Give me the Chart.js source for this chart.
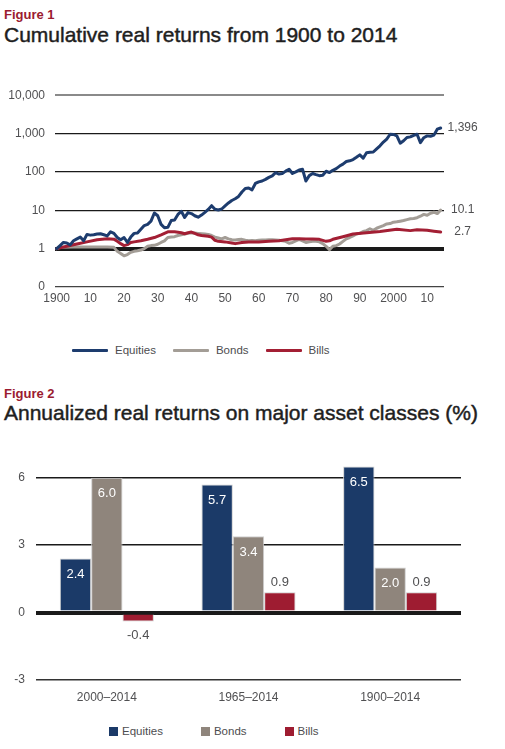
<!DOCTYPE html>
<html>
<head>
<meta charset="utf-8">
<script src="https://cdn.jsdelivr.net/npm/chart.js@4.4.1/dist/chart.umd.min.js"></script>
<style>
  body{margin:0;width:505px;height:749px;position:relative;background:#fff;overflow:hidden;
       font-family:"Liberation Sans",Arial,Helvetica,sans-serif}
  .fig{position:absolute;left:4px;font-size:13px;line-height:13px;font-weight:bold;color:#9b1b30}
  .ttl{position:absolute;left:4px;font-size:21px;line-height:21px;color:#1e1e1e;white-space:nowrap;
       -webkit-text-stroke:0.45px #1e1e1e}
  canvas{position:absolute;left:0}
  .lg{position:absolute;display:flex;align-items:center;height:14px;font-size:11.5px;color:#4d4d4f}
  .lg .it{display:flex;align-items:center}
  .lg1 .it{margin-right:17px}
  .lg1 .sw{width:36px;height:3px;margin-right:7px;border-radius:1px}
  .lg2 .it{margin-right:38px}
  .lg2 .sw{width:9px;height:9px;margin-right:4px}
</style>
</head>
<body>

<div class="fig" style="top:8px">Figure 1</div>
<div class="ttl" style="top:24px">Cumulative real returns from 1900 to 2014</div>
<canvas id="c1" width="505" height="231" style="top:78px"></canvas>
<div class="lg lg1" style="left:72px;top:343px">
  <span class="it"><span class="sw" style="background:#1d3c6e"></span>Equities</span>
  <span class="it"><span class="sw" style="background:#a39d96"></span>Bonds</span>
  <span class="it"><span class="sw" style="background:#a31f34"></span>Bills</span>
</div>

<div class="fig" style="top:387px">Figure 2</div>
<div class="ttl" style="top:402px">Annualized real returns on major asset classes (%)</div>
<canvas id="c2" width="505" height="273" style="top:437px"></canvas>
<div class="lg lg2" style="left:109px;top:724px">
  <span class="it"><span class="sw" style="background:#1b3a68"></span>Equities</span>
  <span class="it"><span class="sw" style="background:#8f857c"></span>Bonds</span>
  <span class="it"><span class="sw" style="background:#9e1c31"></span>Bills</span>
</div>

<script>
/* ── Figure 1 data: cumulative real value of 1 invested in 1900 ── */
const eqYears = [1900,1901,1902,1903,1904,1905,1906,1907,1908,1909,1910,1911,1912,1913,1914,1915,1916,1917,1918,1919,
  1920,1921,1922,1923,1924,1925,1926,1927,1928,1929,1930,1931,1932,1933,1934,1935,1936,1937,1938,1939,
  1940,1941,1942,1943,1944,1945,1946,1947,1948,1949,1950,1951,1952,1953,1954,1955,1956,1957,1958,1959,
  1960,1961,1962,1963,1964,1965,1966,1967,1968,1969,1970,1971,1972,1973,1974,1975,1976,1977,1978,1979,
  1980,1981,1982,1983,1984,1985,1986,1987,1988,1989,1990,1991,1992,1993,1994,1995,1996,1997,1998,1999,
  2000,2001,2002,2003,2004,2005,2006,2007,2008,2009,2010,2011,2012,2013,2014];
const eqValues = [1.0,1.2,1.45,1.4,1.25,1.6,1.8,2.0,1.6,2.35,2.25,2.3,2.4,2.45,2.3,2.15,2.75,2.5,1.95,1.7,
  1.95,1.45,2.0,2.5,2.55,3.2,4.0,4.3,5.2,8.5,7.2,4.3,3.5,3.6,5.4,5.6,7.8,9.4,6.5,8.7,
  8.2,7.2,6.6,7.5,8.8,10.5,13.2,10.6,10.2,10.8,13,15.5,18,20,23,30,37,38,34,50,
  55,58,64,72,79,96,88,91,105,117,91,100,112,117,58,80,91,85,80,82,
  104,96,110,122,142,160,187,195,210,240,278,228,315,325,330,400,480,600,720,960,
  950,870,560,650,790,820,900,960,580,780,870,850,910,1300,1396];

const bondYears = [1900,1901,1905,1910,1915,1917,1918,1919,1920,1921,1922,1923,1924,1925,1926,1927,1928,1929,
  1930,1931,1932,1933,1934,1935,1936,1937,1938,1939,1940,1941,1942,1943,1944,1945,1946,1947,1948,1949,
  1950,1951,1952,1953,1954,1955,1956,1957,1958,1959,1960,1961,1962,1963,1964,1965,1966,1967,1968,1969,
  1970,1971,1972,1973,1974,1975,1976,1977,1978,1979,1980,1981,1982,1983,1984,1985,1986,1987,1988,1989,
  1990,1991,1992,1993,1994,1995,1996,1997,1998,1999,2000,2001,2002,2003,2004,2005,2006,2007,2008,2009,
  2010,2011,2012,2013,2014];
const bondValues = [1.0,1.08,1.1,1.1,1.1,1.08,0.85,0.75,0.65,0.7,0.8,0.85,0.88,0.92,1.0,1.15,1.2,1.22,
  1.3,1.45,1.6,1.95,2.0,2.05,2.2,2.3,2.4,2.5,2.6,2.55,2.5,2.45,2.4,2.35,2.2,2.0,1.9,1.8,
  1.95,1.8,1.7,1.68,1.72,1.75,1.65,1.6,1.62,1.6,1.65,1.68,1.68,1.7,1.7,1.68,1.65,1.6,1.55,1.38,
  1.45,1.6,1.75,1.6,1.45,1.5,1.55,1.55,1.5,1.35,1.15,0.94,1.15,1.2,1.32,1.55,1.8,1.95,2.15,2.4,
  2.5,2.8,2.95,3.3,3.0,3.4,3.7,4.0,4.4,4.5,4.9,5.0,5.2,5.4,5.7,6.0,6.1,6.4,7.0,7.8,
  7.4,8.4,8.9,8.2,10.1];

const billYears = [1900,1903,1906,1909,1912,1915,1917,1918,1919,1920,1921,1922,1923,1925,1927,1929,1931,1933,
  1935,1937,1938,1939,1940,1941,1942,1943,1945,1946,1947,1948,1950,1952,1953,1955,1957,1960,1963,1966,
  1968,1970,1972,1974,1976,1978,1980,1981,1982,1985,1988,1992,1996,2001,2005,2007,2010,2012,2014];
const billValues = [1.0,1.15,1.32,1.5,1.7,1.8,1.77,1.55,1.35,1.2,1.27,1.45,1.5,1.6,1.75,1.95,2.3,2.75,
  2.75,2.6,2.45,2.6,2.7,2.5,2.3,2.2,2.1,2.0,1.65,1.55,1.5,1.4,1.35,1.45,1.5,1.5,1.55,1.6,
  1.7,1.8,1.82,1.78,1.78,1.75,1.55,1.6,1.75,2.05,2.4,2.6,2.8,3.2,2.95,3.1,3.0,2.85,2.72];

const endLabels = ['1,396','10.1','2.7'];
const xTicks1 = [1900,1910,1920,1930,1940,1950,1960,1970,1980,1990,2000,2010];
const yTicks1 = [0.1,1,10,100,1000,10000];

/* ── Figure 2 data: annualized real returns (%) ── */
const periods  = ['2000\u20132014','1965\u20132014','1900\u20132014'];
const equities = [2.4,5.7,6.5];
const bonds    = [6.0,3.4,2.0];
const bills    = [-0.4,0.9,0.9];
const yTicks2  = [-3,0,3,6];

const NAVY = '#1b3a68', TAUPE = '#8f857c', RED = '#9e1c31', TC = '#505052';
const FONT = '"Liberation Sans", Arial, Helvetica, sans-serif';
Chart.defaults.font.family = FONT;
Chart.defaults.color = TC;

const pts = (xs, ys) => xs.map((x, i) => ({ x, y: ys[i] }));

/* ── end-of-line value labels ── */
const endLabelPlugin = {
  id: 'endLabels',
  afterDatasetsDraw(chart) {
    const ctx = chart.ctx;
    ctx.save();
    ctx.font = '12px ' + FONT;
    ctx.fillStyle = TC;
    ctx.textAlign = 'center';
    ctx.textBaseline = 'middle';
    chart.data.datasets.forEach((ds, i) => {
      const pts = chart.getDatasetMeta(i).data;
      const last = pts[pts.length - 1];
      ctx.fillText(endLabels[i], last.x + 22, last.y);
    });
    ctx.restore();
  }
};

new Chart(document.getElementById('c1'), {
  type: 'line',
  data: { datasets: [
    { label:'Equities', data: pts(eqYears, eqValues),   borderColor:'#1d3c6e', borderWidth:3, order:0 },
    { label:'Bonds',    data: pts(bondYears, bondValues), borderColor:'#a39d96', borderWidth:3, order:2 },
    { label:'Bills',    data: pts(billYears, billValues), borderColor:'#a31f34', borderWidth:3, order:1 }
  ]},
  options: {
    responsive:false, animation:false, devicePixelRatio:1,
    layout:{ padding:{ left:0, right:61, top:14, bottom:0 } },
    elements:{ point:{ radius:0 }, line:{ tension:0, borderJoinStyle:'round', borderCapStyle:'round' } },
    plugins:{ legend:{ display:false }, tooltip:{ enabled:false } },
    scales:{
      x:{ type:'linear', min:1899.5, max:2015,
          grid:{ display:false, drawTicks:false }, border:{ display:false },
          afterBuildTicks: s => { s.ticks = xTicks1.map(v => ({ value:v })); },
          afterFit: s => { s.height = 22; },
          ticks:{ padding:4, font:{ size:12 }, maxRotation:0, autoSkip:false,
                  callback: v => (v % 100 === 0 ? String(v) : String(v % 100)) } },
      y:{ type:'logarithmic', min:0.1, max:10000,
          afterBuildTicks: s => { s.ticks = yTicks1.map(v => ({ value:v })); },
          afterFit: s => { s.width = 55; },
          border:{ display:false },
          grid:{ drawTicks:false,
                 color: c => c.tick && c.tick.value === 10000 ? '#8a8a8a' : (c.tick && c.tick.value === 0.1 ? '#444' : '#1a1a1a'),
                 lineWidth: c => c.tick && c.tick.value === 1 ? 4 : (c.tick && c.tick.value === 10000 ? 2 : 1.2) },
          ticks:{ padding:10, font:{ size:12 },
                  callback: v => (v < 1 ? '0' : Number(v).toLocaleString('en-US')) } }
    }
  },
  plugins:[endLabelPlugin]
});

/* ── bar value labels ── */
const barLabelPlugin = {
  id: 'barLabels',
  afterDatasetsDraw(chart) {
    const ctx = chart.ctx;
    ctx.save();
    ctx.font = '13px ' + FONT;
    ctx.textAlign = 'center';
    ctx.textBaseline = 'middle';
    chart.data.datasets.forEach((ds, i) => {
      chart.getDatasetMeta(i).data.forEach((bar, j) => {
        const v = ds.data[j], txt = v.toFixed(1);
        if (i < 2) { ctx.fillStyle = '#fff'; ctx.fillText(txt, bar.x, bar.y + 16); }
        else if (v >= 0) { ctx.fillStyle = TC; ctx.fillText(txt, bar.x, bar.y - 10); }
        else { ctx.fillStyle = TC; ctx.fillText(txt, bar.x, bar.y + 14); }
      });
    });
    ctx.restore();
  }
};

const barDs = (label, data, color) => ({ label, data, backgroundColor:color, borderColor:'#cfcfcf', borderWidth:1,
  barPercentage:1, categoryPercentage:0.664 });

new Chart(document.getElementById('c2'), {
  type: 'bar',
  data: { labels: periods, datasets: [
    barDs('Equities', equities, NAVY),
    barDs('Bonds', bonds, TAUPE),
    barDs('Bills', bills, RED)
  ]},
  options: {
    responsive:false, animation:false, devicePixelRatio:1,
    layout:{ padding:{ left:0, right:44, top:10, bottom:0 } },
    plugins:{ legend:{ display:false }, tooltip:{ enabled:false } },
    scales:{
      x:{ grid:{ display:false, drawTicks:false }, border:{ display:false },
          afterFit: s => { s.height = 30; },
          ticks:{ padding:10, font:{ size:12 } } },
      y:{ min:-3, max:7,
          afterBuildTicks: s => { s.ticks = yTicks2.map(v => ({ value:v })); },
          afterFit: s => { s.width = 36; },
          border:{ display:false },
          grid:{ drawTicks:false, z:-1,
                 color: c => c.tick && c.tick.value === -3 ? '#333' : '#1a1a1a',
                 lineWidth: c => c.tick && c.tick.value === 0 ? 4 : 1.5 },
          ticks:{ padding:11, font:{ size:12 } } }
    }
  },
  plugins:[barLabelPlugin]
});
</script>
</body>
</html>
